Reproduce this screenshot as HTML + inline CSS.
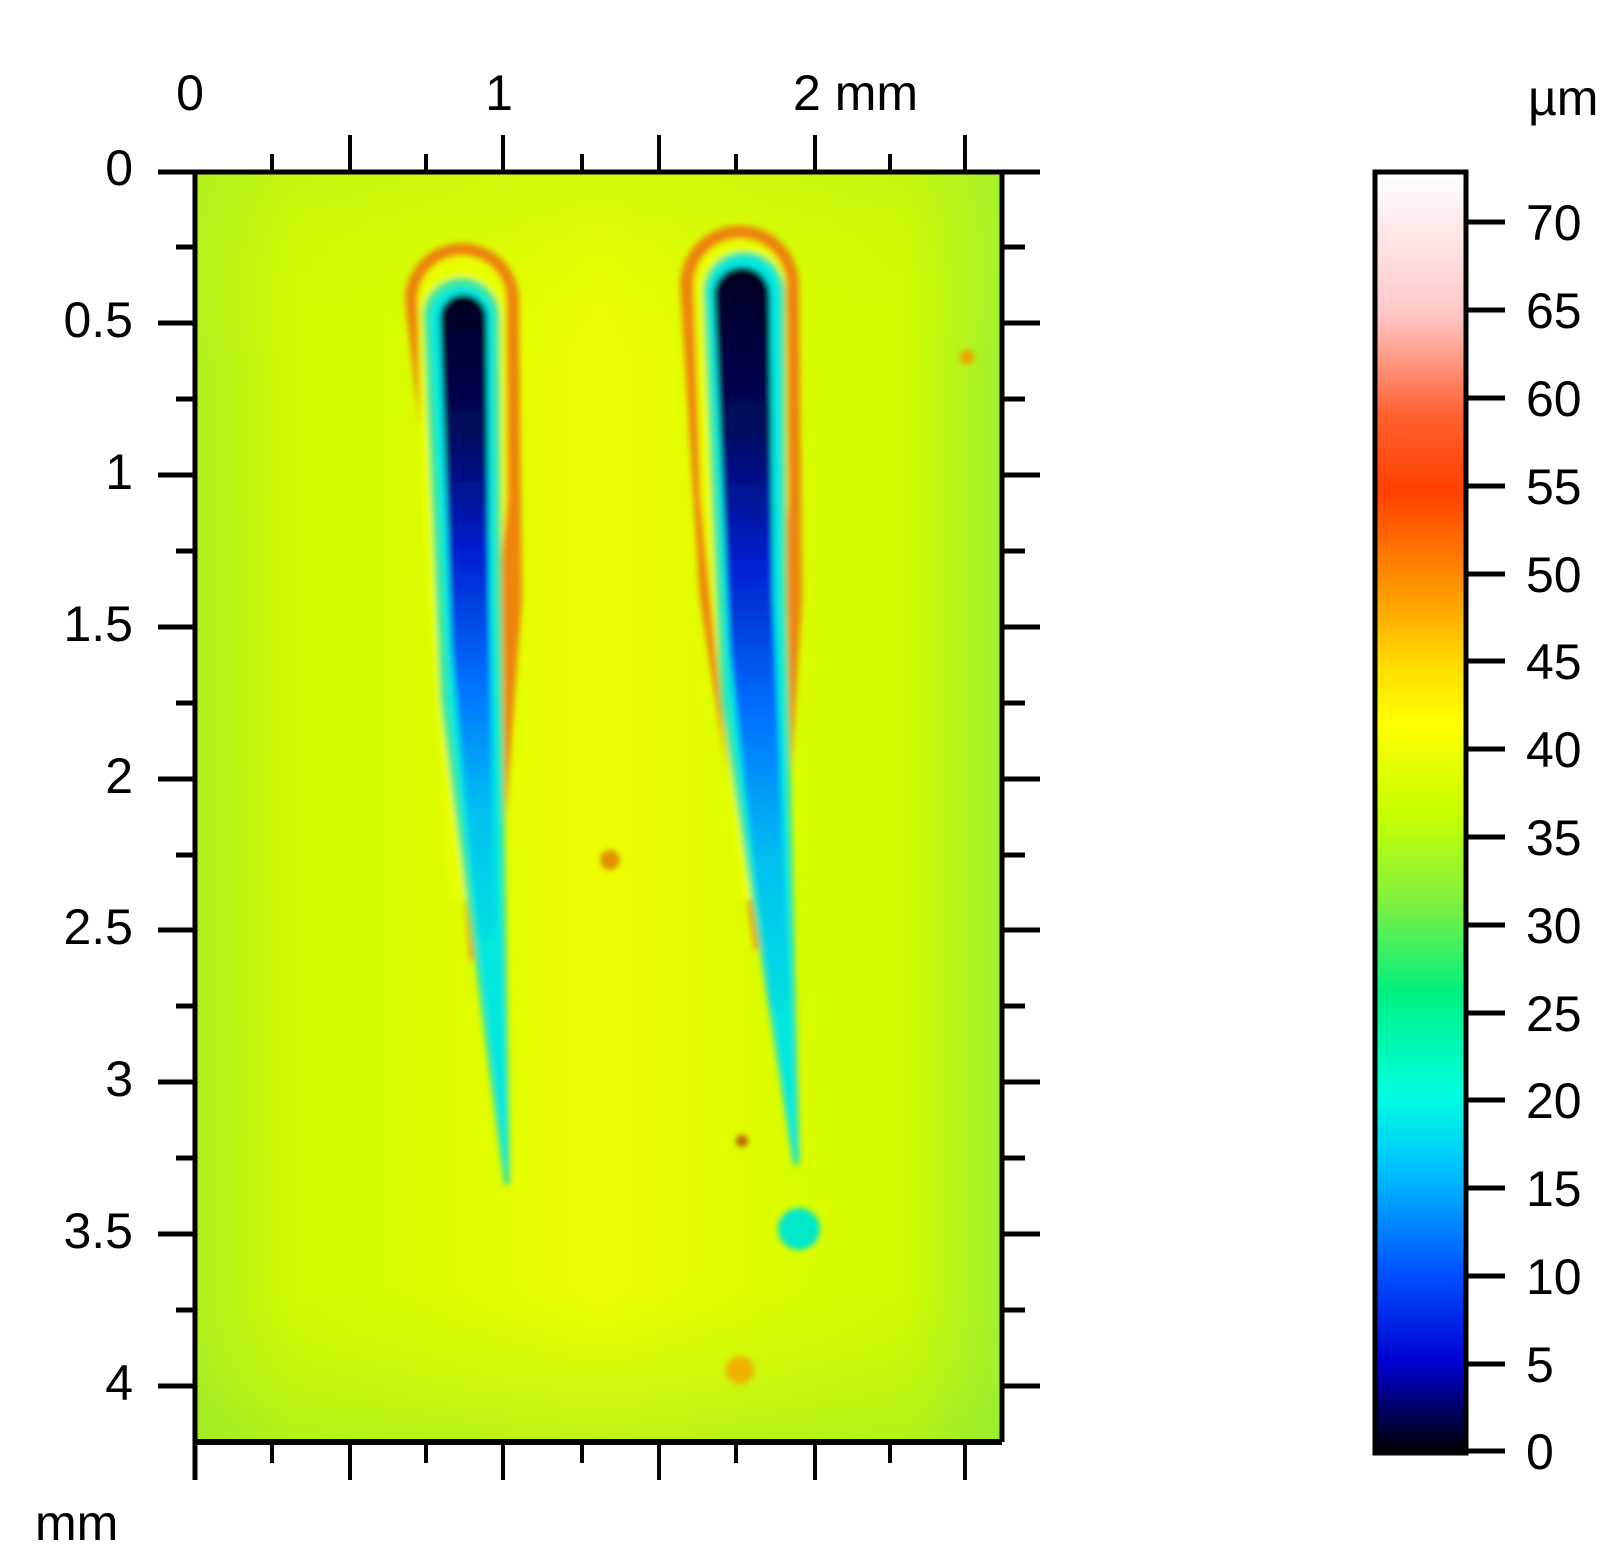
<!DOCTYPE html><html><head><style>
body{margin:0;background:#fff;}
svg{display:block;}
text{font-family:"Liberation Sans",sans-serif;font-size:50px;fill:#000;}
</style></head><body>
<svg width="1622" height="1557" viewBox="0 0 1622 1557" xmlns="http://www.w3.org/2000/svg">
<defs>
<linearGradient id="bgx" x1="0" x2="1" y1="0" y2="0">
<stop offset="0" stop-color="#b0f020"/><stop offset="0.12" stop-color="#d0fa00"/><stop offset="0.5" stop-color="#ecff00"/><stop offset="0.88" stop-color="#d0fa00"/><stop offset="1" stop-color="#a0f030"/></linearGradient>
<linearGradient id="bgy" x1="0" x2="0" y1="0" y2="1">
<stop offset="0" stop-color="#b0f020" stop-opacity="0.4"/><stop offset="0.15" stop-color="#e0ff00" stop-opacity="0"/><stop offset="0.88" stop-color="#b0f020" stop-opacity="0"/><stop offset="1" stop-color="#90e830" stop-opacity="0.5"/></linearGradient>
<linearGradient id="core" x1="0" x2="0" y1="0" y2="1">
<stop offset="0" stop-color="#000020"/><stop offset="0.22" stop-color="#000860"/><stop offset="0.4" stop-color="#0020d0"/><stop offset="0.6" stop-color="#0070ff"/><stop offset="0.8" stop-color="#00c0f0"/><stop offset="1" stop-color="#00e0e0"/></linearGradient>
<linearGradient id="cb" x1="0" x2="0" y1="0" y2="1">
<stop offset="0" stop-color="#ffffff"/>
<stop offset="0.11" stop-color="#ffc8c8"/>
<stop offset="0.19" stop-color="#ff6030"/>
<stop offset="0.25" stop-color="#ff4000"/>
<stop offset="0.32" stop-color="#ff9000"/>
<stop offset="0.39" stop-color="#ffe000"/>
<stop offset="0.43" stop-color="#ffff00"/>
<stop offset="0.5" stop-color="#c8ff00"/>
<stop offset="0.57" stop-color="#80f040"/>
<stop offset="0.64" stop-color="#00f080"/>
<stop offset="0.72" stop-color="#00ffe0"/>
<stop offset="0.78" stop-color="#00c0ff"/>
<stop offset="0.86" stop-color="#0050ff"/>
<stop offset="0.93" stop-color="#0000d0"/>
<stop offset="1" stop-color="#000000"/>
</linearGradient>
<filter id="bl"><feGaussianBlur stdDeviation="3"/></filter>
<clipPath id="pc"><rect x="197" y="174" width="805" height="1268"/></clipPath>
</defs>
<g clip-path="url(#pc)">
<rect x="197" y="174" width="805" height="1268" fill="url(#bgx)"/>
<rect x="197" y="174" width="805" height="1268" fill="url(#bgy)"/>
<g filter="url(#bl)">
<!-- left streak -->
<path d="M405,300 A57,57 0 0 1 519,300 L522,600 L495,960 L470,960 L440,600 Z" fill="#f07010" opacity="0.85"/>
<path d="M418,300 A44,44 0 0 1 506,300 L507,500 L470,900 L450,900 L421,500 Z" fill="#e8ff00"/>
<path d="M423,316 A38,38 0 0 1 500,316 L502,600 L510,1185 L504,1185 L440,700 Z" fill="#40e890"/>
<path d="M430,318 A32,32 0 0 1 494,318 L496,600 L508,1170 L505,1170 L448,700 Z" fill="#00e8e0"/>
<path d="M440,318 A23,23 0 0 1 487,318 L489,600 L495,940 L478,940 L452,650 Z" fill="url(#core)"/>
<!-- right streak -->
<path d="M680,285 A59,59 0 0 1 799,285 L802,600 L780,950 L755,950 L700,600 Z" fill="#f07010" opacity="0.85"/>
<path d="M694,285 A46,46 0 0 1 786,285 L788,500 L760,900 L740,900 L701,500 Z" fill="#e8ff00"/>
<path d="M703,292 A41,41 0 0 1 785,292 L787,600 L800,1165 L793,1165 L720,700 Z" fill="#40e890"/>
<path d="M708,292 A36,36 0 0 1 780,292 L782,600 L797,1160 L794,1160 L727,700 Z" fill="#00e8e0"/>
<path d="M714,295 A28,28 0 0 1 770,295 L773,600 L790,1010 L770,1010 L730,650 Z" fill="url(#core)"/>
<circle cx="799" cy="1229" r="21" fill="#00e8c8"/>
<circle cx="740" cy="1370" r="14" fill="#f0b000"/>
<circle cx="610" cy="860" r="10" fill="#e09000"/>
<circle cx="967" cy="357" r="7" fill="#f0a000"/>
<circle cx="742" cy="1141" r="6" fill="#c06000"/>
</g>
</g>
<!-- frame -->
<g stroke="#000" fill="none">
<line x1="158" y1="172" x2="1040" y2="172" stroke-width="5"/>
<line x1="195" y1="172" x2="195" y2="1480" stroke-width="5"/>
<line x1="195" y1="1442" x2="1002" y2="1442" stroke-width="6"/>
<line x1="1002" y1="172" x2="1002" y2="1442" stroke-width="5"/>
<g stroke-width="4">
<line x1="272" y1="154" x2="272" y2="172"/><line x1="272" y1="1442" x2="272" y2="1463"/>
<line x1="350" y1="135" x2="350" y2="172"/><line x1="350" y1="1442" x2="350" y2="1480"/>
<line x1="426" y1="154" x2="426" y2="172"/><line x1="426" y1="1442" x2="426" y2="1463"/>
<line x1="503" y1="135" x2="503" y2="172"/><line x1="503" y1="1442" x2="503" y2="1480"/>
<line x1="582" y1="154" x2="582" y2="172"/><line x1="582" y1="1442" x2="582" y2="1463"/>
<line x1="659" y1="135" x2="659" y2="172"/><line x1="659" y1="1442" x2="659" y2="1480"/>
<line x1="736" y1="154" x2="736" y2="172"/><line x1="736" y1="1442" x2="736" y2="1463"/>
<line x1="815" y1="135" x2="815" y2="172"/><line x1="815" y1="1442" x2="815" y2="1480"/>
<line x1="890" y1="154" x2="890" y2="172"/><line x1="890" y1="1442" x2="890" y2="1463"/>
<line x1="965" y1="135" x2="965" y2="172"/><line x1="965" y1="1442" x2="965" y2="1480"/>
</g>
<g stroke-width="5">
<line x1="158" y1="323" x2="195" y2="323"/><line x1="1002" y1="323" x2="1040" y2="323"/>
<line x1="158" y1="475" x2="195" y2="475"/><line x1="1002" y1="475" x2="1040" y2="475"/>
<line x1="158" y1="627" x2="195" y2="627"/><line x1="1002" y1="627" x2="1040" y2="627"/>
<line x1="158" y1="779" x2="195" y2="779"/><line x1="1002" y1="779" x2="1040" y2="779"/>
<line x1="158" y1="930" x2="195" y2="930"/><line x1="1002" y1="930" x2="1040" y2="930"/>
<line x1="158" y1="1082" x2="195" y2="1082"/><line x1="1002" y1="1082" x2="1040" y2="1082"/>
<line x1="158" y1="1234" x2="195" y2="1234"/><line x1="1002" y1="1234" x2="1040" y2="1234"/>
<line x1="158" y1="1386" x2="195" y2="1386"/><line x1="1002" y1="1386" x2="1040" y2="1386"/>
<line x1="176" y1="247" x2="195" y2="247"/><line x1="1002" y1="247" x2="1025" y2="247"/>
<line x1="176" y1="399" x2="195" y2="399"/><line x1="1002" y1="399" x2="1025" y2="399"/>
<line x1="176" y1="551" x2="195" y2="551"/><line x1="1002" y1="551" x2="1025" y2="551"/>
<line x1="176" y1="703" x2="195" y2="703"/><line x1="1002" y1="703" x2="1025" y2="703"/>
<line x1="176" y1="855" x2="195" y2="855"/><line x1="1002" y1="855" x2="1025" y2="855"/>
<line x1="176" y1="1006" x2="195" y2="1006"/><line x1="1002" y1="1006" x2="1025" y2="1006"/>
<line x1="176" y1="1158" x2="195" y2="1158"/><line x1="1002" y1="1158" x2="1025" y2="1158"/>
<line x1="176" y1="1310" x2="195" y2="1310"/><line x1="1002" y1="1310" x2="1025" y2="1310"/>
</g>
</g>
<g text-anchor="middle">
<text x="190" y="110">0</text>
<text x="499" y="110">1</text>
</g>
<text x="793" y="110">2 mm</text>
<g text-anchor="end">
<text x="133" y="185">0</text>
<text x="133" y="337">0.5</text>
<text x="133" y="489">1</text>
<text x="133" y="641">1.5</text>
<text x="133" y="793">2</text>
<text x="133" y="944">2.5</text>
<text x="133" y="1096">3</text>
<text x="133" y="1248">3.5</text>
<text x="133" y="1400">4</text>
</g>
<text x="35" y="1540">mm</text>
<rect x="1375" y="172" width="91" height="1281" fill="url(#cb)" stroke="#000" stroke-width="5"/>
<text x="1528" y="115">µm</text>
<g stroke="#000" stroke-width="5">
<line x1="1468" y1="222" x2="1505" y2="222"/><line x1="1468" y1="310" x2="1505" y2="310"/>
<line x1="1468" y1="398" x2="1505" y2="398"/><line x1="1468" y1="486" x2="1505" y2="486"/>
<line x1="1468" y1="574" x2="1505" y2="574"/><line x1="1468" y1="661" x2="1505" y2="661"/>
<line x1="1468" y1="749" x2="1505" y2="749"/><line x1="1468" y1="837" x2="1505" y2="837"/>
<line x1="1468" y1="925" x2="1505" y2="925"/><line x1="1468" y1="1013" x2="1505" y2="1013"/>
<line x1="1468" y1="1100" x2="1505" y2="1100"/><line x1="1468" y1="1188" x2="1505" y2="1188"/>
<line x1="1468" y1="1276" x2="1505" y2="1276"/><line x1="1468" y1="1364" x2="1505" y2="1364"/>
<line x1="1468" y1="1451" x2="1505" y2="1451"/>
</g>
<g>
<text x="1526" y="240">70</text><text x="1526" y="328">65</text>
<text x="1526" y="416">60</text><text x="1526" y="504">55</text>
<text x="1526" y="592">50</text><text x="1526" y="679">45</text>
<text x="1526" y="767">40</text><text x="1526" y="855">35</text>
<text x="1526" y="943">30</text><text x="1526" y="1031">25</text>
<text x="1526" y="1118">20</text><text x="1526" y="1206">15</text>
<text x="1526" y="1294">10</text><text x="1526" y="1382">5</text>
<text x="1526" y="1469">0</text>
</g>
</svg>
</body></html>
